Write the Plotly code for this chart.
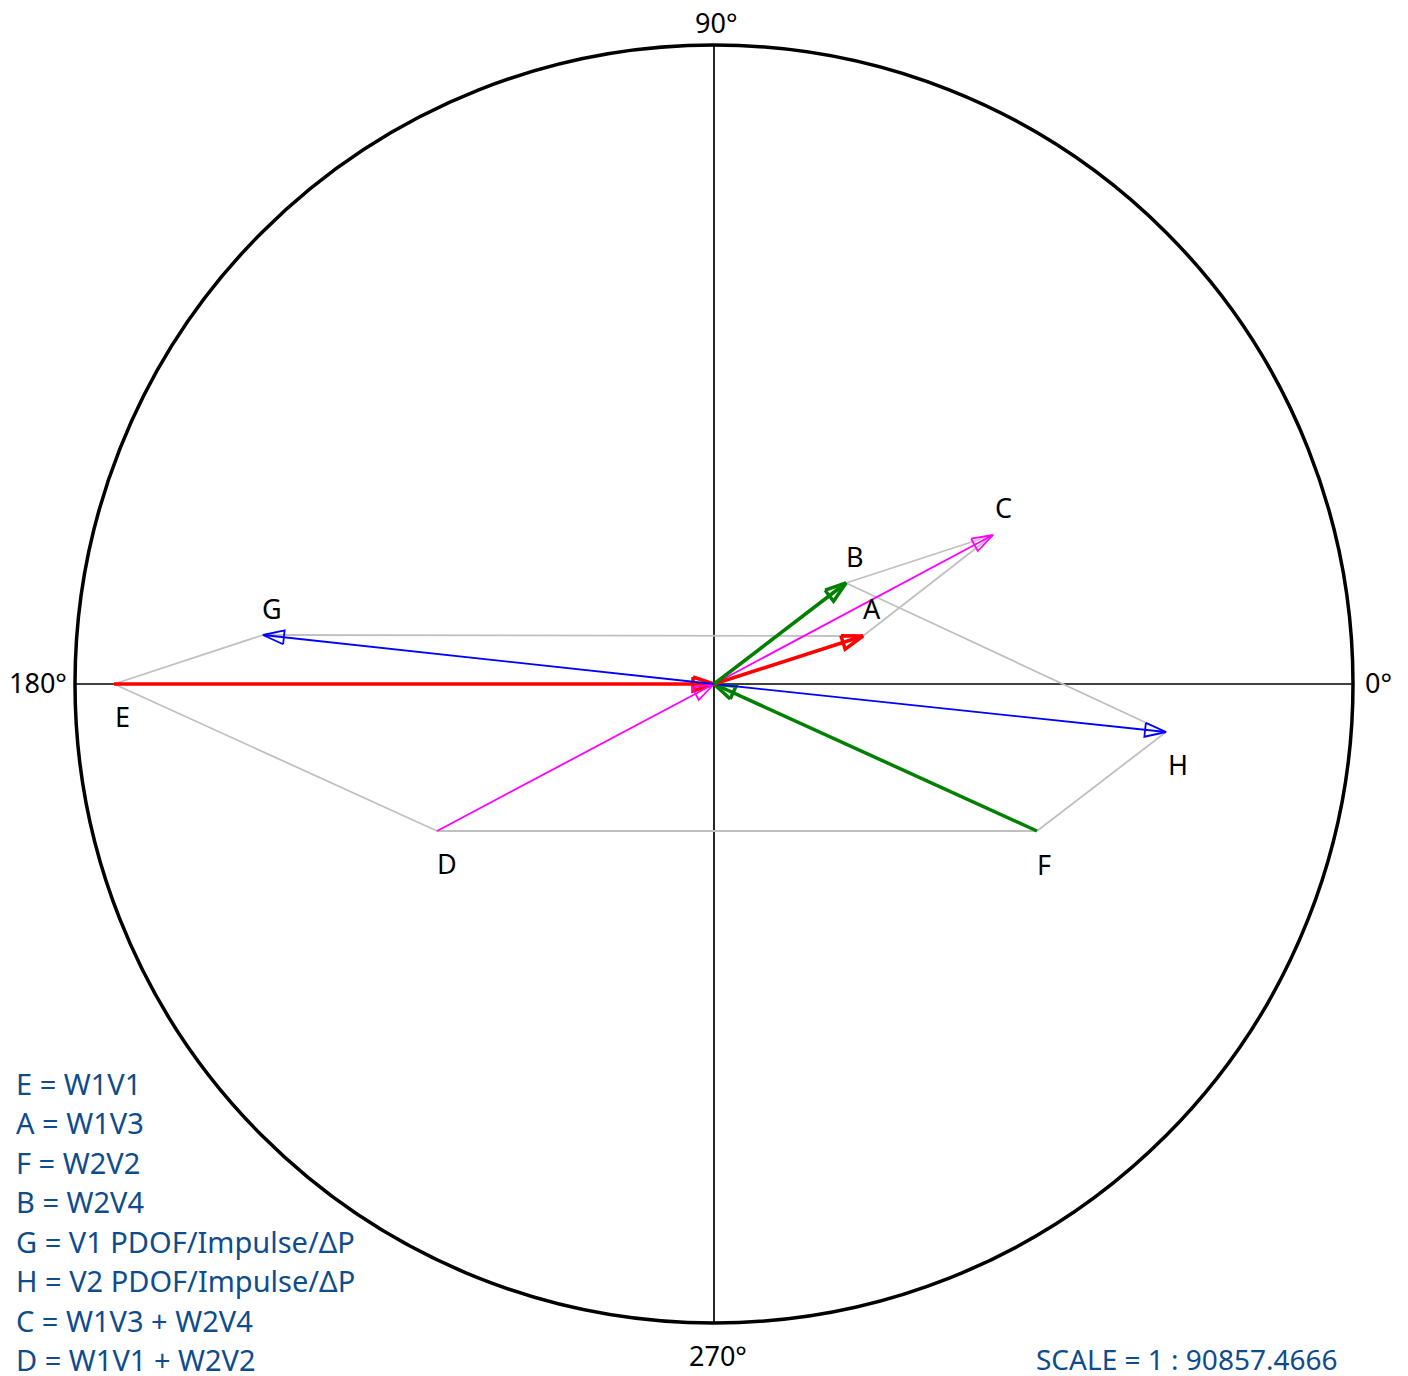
import numpy as np
import plotly.graph_objects as go

# ---- data (vector end points, units relative to circle radius 639) ----
point_labels = ["E", "A", "F", "B", "G", "H", "C", "D"]
point_x = [-600, 149, 323, 132, -451, 452, 279, -277]
point_y = [0, 48, -147, 101, 49, -48, 149, -147]

circle_radius = 639

# arrows: (point, colour, width, direction) - "in" means arrow points to origin
arrow_points = ["E", "F", "D", "G", "H", "C", "A", "B"]
arrow_colors = ["#FF0000", "#008000", "#FF00FF", "#0000FF", "#0000FF", "#FF00FF", "#FF0000", "#008000"]
arrow_widths = [3.5, 3.5, 1.8, 1.8, 1.8, 1.8, 3.5, 3.5]
arrow_dirs = ["in", "in", "in", "out", "out", "out", "out", "out"]

# parallelogram construction edges
edge_from = ["E", "G", "E", "D", "F", "H", "B", "C"]
edge_to = ["G", "A", "D", "F", "H", "B", "C", "A"]

legend_lines = [
    "E = W1V1",
    "A = W1V3",
    "F = W2V2",
    "B = W2V4",
    "G = V1 PDOF/Impulse/ΔP",
    "H = V2 PDOF/Impulse/ΔP",
    "C = W1V3 + W2V4",
    "D = W1V1 + W2V2",
]
scale_text = "SCALE = 1 : 90857.4666"
angle_labels = ["0°", "90°", "180°", "270°"]

# ---- figure ----
W, H = 1408, 1376
PAGE_OFF = 8          # default body margin of the html page
cx, cy = 714 - PAGE_OFF, 684 - PAGE_OFF  # centre of the circle in figure pixels
pts = {k: (x, y) for k, x, y in zip(point_labels, point_x, point_y)}

fig = go.Figure()
FONT = "Noto Sans"

# circle and axes
fig.add_shape(type="circle", x0=-circle_radius, x1=circle_radius, y0=-circle_radius, y1=circle_radius,
              line=dict(color="black", width=3.5), layer="below")
fig.add_trace(go.Scatter(x=[-circle_radius, circle_radius], y=[0, 0], mode="lines",
                         line=dict(color="black", width=1.7), hoverinfo="skip"))
fig.add_trace(go.Scatter(x=[0, 0], y=[-circle_radius, circle_radius], mode="lines",
                         line=dict(color="black", width=1.7), hoverinfo="skip"))

# gray construction lines
for a, b in zip(edge_from, edge_to):
    fig.add_trace(go.Scatter(x=[pts[a][0], pts[b][0]], y=[pts[a][1], pts[b][1]], mode="lines",
                             line=dict(color="#C0C0C0", width=1.8), hoverinfo="skip"))


def head(p0, p1, length=20, half=6.5):
    p0 = np.array(p0, float)
    p1 = np.array(p1, float)
    u = (p1 - p0) / np.linalg.norm(p1 - p0)
    n = np.array([-u[1], u[0]])
    base = p1 - length * u
    l = base + half * n
    r = base - half * n
    return [l[0], p1[0], r[0], l[0]], [l[1], p1[1], r[1], l[1]]


for p, col, w, d in zip(arrow_points, arrow_colors, arrow_widths, arrow_dirs):
    if d == "in":
        s, e = pts[p], (0, 0)
    else:
        s, e = (0, 0), pts[p]
    fig.add_trace(go.Scatter(x=[s[0], e[0]], y=[s[1], e[1]], mode="lines",
                             line=dict(color=col, width=w), hoverinfo="skip"))
    hx, hy = head(s, e, length=21, half=7)
    fig.add_trace(go.Scatter(x=hx, y=hy, mode="lines",
                             line=dict(color=col, width=w), hoverinfo="skip"))

# point labels
label_offsets = {"A": (9, 28), "B": (9, 27), "C": (10, 28), "G": (9, 27),
                 "D": (10, -32), "E": (8, -32), "F": (7, -33), "H": (12, -32)}
for k in point_labels:
    dx, dy = label_offsets[k]
    fig.add_annotation(x=pts[k][0] + dx, y=pts[k][1] + dy, text=k, showarrow=False,
                       font=dict(family=FONT, size=27, color="black"),
                       xanchor="center", yanchor="middle")

# angle labels
angle_pos = [(circle_radius + 25, 2), (2, circle_radius + 23), (-circle_radius - 37, 2), (4, -circle_radius - 32)]
for t, (x, y) in zip(angle_labels, angle_pos):
    fig.add_annotation(x=x, y=y, text=t, showarrow=False, borderpad=0,
                       font=dict(family=FONT, size=27, color="black"),
                       xanchor="center", yanchor="middle")

# legend text
LEG_COL = "#0F4C8C"
for i, t in enumerate(legend_lines):
    fig.add_annotation(x=15 - 714, y=684 - (1083 + 39.5 * i), text=t, showarrow=False, borderpad=0,
                       font=dict(family=FONT, size=29, color=LEG_COL),
                       xanchor="left", yanchor="middle")
fig.add_annotation(x=1035 - 714, y=684 - 1359, text=scale_text, showarrow=False, borderpad=0,
                   font=dict(family=FONT, size=28, color=LEG_COL),
                   xanchor="left", yanchor="middle")

fig.update_layout(
    width=W, height=H,
    margin=dict(l=0, r=0, t=0, b=0),
    paper_bgcolor="white", plot_bgcolor="white",
    showlegend=False,
    xaxis=dict(range=[-cx, W - cx], visible=False, fixedrange=True),
    yaxis=dict(range=[cy - H, cy], visible=False, fixedrange=True),
)

fig.write_html("out.html", config={"displayModeBar": False})
